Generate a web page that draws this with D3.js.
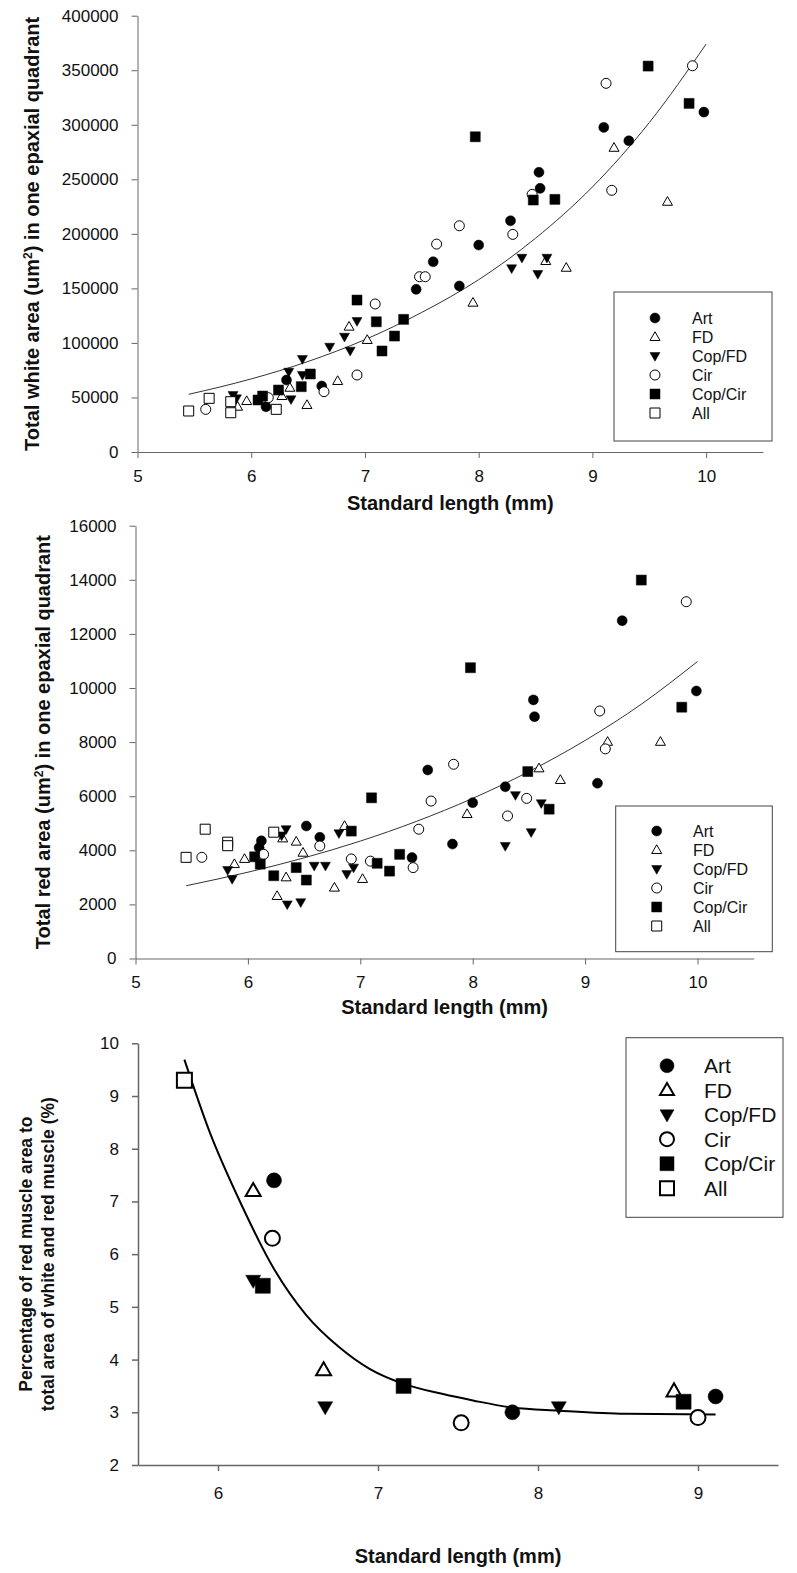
<!DOCTYPE html>
<html>
<head>
<meta charset="utf-8">
<script src="https://cdn.jsdelivr.net/npm/d3@7"></script>
<style>
  body { margin: 0; background: #fff; }
  text { font-family: "Liberation Sans", Arial, sans-serif; fill: #111; }
</style>
</head>
<body>
<div id="chart"></div>
<script>
// series names, in legend order
const seriesNames = ["Art", "FD", "Cop/FD", "Cir", "Cop/Cir", "All"];
const seriesShapes = ["circleFill", "triUpOpen", "triDownFill", "circleOpen", "squareFill", "squareOpen"];

// panel 1 : total white area (um2) vs standard length (mm)
const whiteArt = [[6.13,41500],[6.31,66000],[6.62,60500],[7.45,149100],[7.6,174400],[7.83,152200],[8.0,189700],[8.28,212000],[8.53,256400],[8.54,241700],[9.1,297600],[9.32,285300],[9.98,311600]];
const whiteFD = [[5.88,41500],[5.96,46700],[6.27,51300],[6.34,58900],[6.49,43100],[6.76,65100],[6.86,114900],[7.02,102700],[7.95,136900],[8.59,175100],[8.77,168900],[9.19,278900],[9.66,229400]];
const whiteCopFD = [[5.84,52200],[5.87,49200],[6.33,73600],[6.35,48300],[6.45,70600],[6.45,85200],[6.69,96500],[6.82,105700],[6.87,92900],[6.93,120100],[8.29,168400],[8.38,178100],[8.52,163200],[8.6,178100]];
const whiteCir = [[5.6,39100],[6.15,49800],[6.64,55300],[6.93,70600],[7.09,135700],[7.48,160700],[7.53,160700],[7.63,190600],[7.83,207400],[8.3,199500],[8.47,236200],[9.12,338000],[9.17,239900],[9.88,354100]];
const whiteCopCir = [[6.06,47700],[6.1,51300],[6.24,56800],[6.44,59900],[6.52,71500],[6.93,139300],[7.1,119400],[7.15,92600],[7.26,106300],[7.34,121600],[7.97,289000],[8.48,231000],[8.67,231600],[9.49,353800],[9.85,319600]];
const whiteAll = [[5.45,37600],[5.63,49200],[5.82,46100],[5.82,36000],[6.22,39100]];
const whiteFit = [[5.45,52900],[6,67000],[6.5,83000],[7,103000],[7.5,128000],[8,158000],[8.5,196000],[9,243000],[9.5,302000],[10,374000]];
const whiteYTicks = [0,50000,100000,150000,200000,250000,300000,350000,400000];

// panel 2 : total red area (um2) vs standard length (mm)
const redArt = [[6.12,4350],[6.1,4100],[6.52,4900],[6.64,4480],[7.46,3730],[7.6,6970],[7.82,4230],[8.0,5760],[8.29,6350],[8.54,9560],[8.55,8940],[9.11,6480],[9.33,12490],[9.99,9890]];
const redFD = [[5.88,3490],[5.97,3680],[6.26,2310],[6.31,4440],[6.34,3000],[6.43,4320],[6.49,3910],[6.77,2620],[6.86,4900],[7.02,2940],[7.95,5340],[8.59,7030],[8.78,6600],[9.2,8010],[9.67,8010]];
const redCopFD = [[5.82,3270],[5.86,2940],[6.34,4780],[6.3,4550],[6.35,2000],[6.47,2080],[6.59,3430],[6.69,3430],[6.81,4630],[6.88,3120],[6.94,3360],[8.29,4160],[8.38,6040],[8.52,4670],[8.61,5740]];
const redCir = [[5.59,3740],[6.14,3850],[6.64,4160],[6.92,3680],[7.09,3600],[7.47,3360],[7.52,4780],[7.63,5820],[7.83,7180],[8.31,5270],[8.48,5920],[9.13,9150],[9.18,7750],[9.9,13190]];
const redCopCir = [[6.06,3760],[6.11,3490],[6.23,3060],[6.43,3360],[6.52,2900],[6.92,4710],[7.1,5940],[7.15,3520],[7.26,3230],[7.35,3850],[7.98,10750],[8.49,6910],[8.68,5520],[9.5,13990],[9.86,9290]];
const redAll = [[5.45,3740],[5.62,4780],[5.82,4300],[5.82,4170],[6.23,4670]];
const redFit = [[5.45,2690],[6,3190],[6.5,3720],[7,4340],[7.5,5070],[8,5920],[8.5,6910],[9,8060],[9.5,9400],[10,10980]];
const redYTicks = [0,2000,4000,6000,8000,10000,12000,14000,16000];

// panel 3 : percentage of red muscle
const pctArt = [[6.35,7.4],[7.84,3.0],[9.11,3.3]];
const pctFD = [[6.22,7.2],[6.66,3.8],[8.85,3.4]];
const pctCopFD = [[6.22,5.5],[6.67,3.1],[8.13,3.1]];
const pctCir = [[6.34,6.3],[7.52,2.8],[9.0,2.9]];
const pctCopCir = [[6.28,5.4],[7.16,3.5],[8.91,3.2]];
const pctAll = [[5.79,9.3]];
const pctFit = [[5.79,9.69],[5.95,8.3],[6.14,6.98],[6.35,5.72],[6.55,4.85],[6.76,4.23],[6.95,3.82],[7.16,3.54],[7.4,3.35],[7.6,3.22],[7.84,3.09],[8.13,3.03],[8.55,2.97],[9.11,2.96]];
const pctYTicks = [2,3,4,5,6,7,8,9,10];

const lengthTicks = [5,6,7,8,9,10];
const pctXTicks = [6,7,8,9];

const width = 797, height = 1573;

const svg = d3.select("#chart")
    .append("svg")
    .attr("width", width)
    .attr("height", height);

function shapePath(shape, s) {
    // s = nominal marker size in px
    const h = s / 2;
    if (shape.startsWith("circle")) {
        return d3.symbol(d3.symbolCircle, Math.PI * h * h)();
    }
    if (shape.startsWith("square")) {
        return `M${-h},${-h}H${h}V${h}H${-h}Z`;
    }
    const th = s * 0.87;
    if (shape.startsWith("triUp")) {
        return `M0,${-th * 0.6}L${h},${th * 0.4}L${-h},${th * 0.4}Z`;
    }
    return `M0,${th * 0.6}L${h},${-th * 0.4}L${-h},${-th * 0.4}Z`;
}

function drawMarker(g, shape, cx, cy, s, sw) {
    const open = shape.endsWith("Open");
    g.append("path")
        .attr("d", shapePath(shape, s))
        .attr("transform", `translate(${cx},${cy})`)
        .attr("fill", open ? "#fff" : "#000")
        .attr("stroke", "#000")
        .attr("stroke-width", open ? sw : 0.5);
}

function drawPanel(p) {
    const g = svg.append("g");
    const x = d3.scaleLinear(p.xDomain, p.xRange);
    const y = d3.scaleLinear(p.yDomain, p.yRange);

    // y axis
    const ya = g.append("g")
        .attr("transform", `translate(${p.xRange[0]},0)`)
        .call(d3.axisLeft(y).tickValues(p.yTicks).tickSize(6).tickSizeOuter(0).tickPadding(13).tickFormat(d3.format("d")));
    // x axis
    const xa = g.append("g")
        .attr("transform", `translate(0,${p.yRange[0]})`)
        .call(d3.axisBottom(x).tickValues(p.xTicks).tickSize(6).tickSizeOuter(0).tickPadding(p.xPad).tickFormat(d3.format("d")));

    [ya, xa].forEach(a => {
        a.select(".domain").attr("stroke", "#666").attr("stroke-width", p.axisW);
        a.selectAll(".tick line").attr("stroke", "#666").attr("stroke-width", p.axisW);
        a.selectAll(".tick text")
            .style("font-family", '"Liberation Sans", Arial, sans-serif')
            .style("font-size", p.tickFont + "px")
            .attr("fill", "#1a1a1a");
    });

    // fitted curve
    g.append("path")
        .datum(p.fit)
        .attr("fill", "none")
        .attr("stroke", p.fitColor)
        .attr("stroke-width", p.fitW)
        .attr("d", d3.line().x(d => x(d[0])).y(d => y(d[1])).curve(d3.curveMonotoneX));

    // points, series by series
    p.series.forEach((pts, i) => {
        const sg = g.append("g").attr("class", "series");
        pts.forEach(d => drawMarker(sg, seriesShapes[i], x(d[0]), y(d[1]), p.markSize, p.openW));
    });

    // legend
    const lg = g.append("g");
    lg.append("rect")
        .attr("x", p.legend.x).attr("y", p.legend.y)
        .attr("width", p.legend.w).attr("height", p.legend.h)
        .attr("fill", "#fff").attr("stroke", "#444").attr("stroke-width", 1);
    seriesNames.forEach((name, i) => {
        const cy = p.legend.row0 + i * p.legend.step;
        drawMarker(lg, seriesShapes[i], p.legend.mx, cy, p.legend.ms, p.openW);
        lg.append("text")
            .attr("x", p.legend.tx)
            .attr("y", cy)
            .attr("dy", "0.36em")
            .style("font-size", p.legend.font + "px")
            .text(name);
    });

    // x title
    g.append("text")
        .attr("x", (p.xRange[0] + p.xRange[1]) / 2)
        .attr("y", p.xTitleY)
        .attr("text-anchor", "middle")
        .style("font-size", "20px")
        .style("font-weight", "bold")
        .text("Standard length (mm)");

    // y title
    const yMid = (p.yRange[0] + p.yRange[1]) / 2;
    p.yTitle.forEach(line => {
        const t = g.append("text")
            .attr("transform", `translate(${line.x},${yMid}) rotate(-90)`)
            .attr("text-anchor", "middle")
            .attr("dy", "0.36em")
            .style("font-size", line.size + "px")
            .style("font-weight", "bold");
        line.parts.forEach(part => {
            const ts = t.append("tspan").text(part.t);
            if (part.sup) ts.attr("baseline-shift", "super").style("font-size", "12px");
        });
    });
}

drawPanel({
    xDomain: [5, 10.5], xRange: [137.5, 763],
    yDomain: [0, 400000], yRange: [452, 15.7],
    xTicks: lengthTicks, yTicks: whiteYTicks, xPad: 12,
    series: [whiteArt, whiteFD, whiteCopFD, whiteCir, whiteCopCir, whiteAll],
    fit: whiteFit, fitColor: "#333", fitW: 1,
    markSize: 10, openW: 1, axisW: 1, tickFont: 17,
    legend: {x: 614, y: 292, w: 158, h: 149, row0: 318, step: 19, mx: 655, tx: 692, ms: 10, font: 16},
    xTitleY: 510,
    yTitle: [{x: 32, size: 20, parts: [{t: "Total white area (um"}, {t: "2", sup: true}, {t: ") in one epaxial quadrant"}]}]
});

drawPanel({
    xDomain: [5, 10.5], xRange: [135.5, 753.7],
    yDomain: [0, 16000], yRange: [958.5, 525.7],
    xTicks: lengthTicks, yTicks: redYTicks, xPad: 11,
    series: [redArt, redFD, redCopFD, redCir, redCopCir, redAll],
    fit: redFit, fitColor: "#333", fitW: 1,
    markSize: 10, openW: 1, axisW: 1, tickFont: 17,
    legend: {x: 615.7, y: 806, w: 156.6, h: 145.7, row0: 831, step: 19, mx: 656.7, tx: 693, ms: 10, font: 16},
    xTitleY: 1014,
    yTitle: [{x: 43, size: 20, parts: [{t: "Total red area (um"}, {t: "2", sup: true}, {t: ") in one epaxial quadrant"}]}]
});

drawPanel({
    xDomain: [5.5, 9.5], xRange: [138, 778],
    yDomain: [2, 10], yRange: [1465, 1043.3],
    xTicks: pctXTicks, yTicks: pctYTicks, xPad: 16,
    series: [pctArt, pctFD, pctCopFD, pctCir, pctCopCir, pctAll],
    fit: pctFit, fitColor: "#000", fitW: 2,
    markSize: 15, openW: 2, axisW: 1.5, tickFont: 17,
    legend: {x: 626, y: 1037.7, w: 157, h: 179.6, row0: 1065.7, step: 24.5, mx: 667, tx: 704, ms: 14, font: 21},
    xTitleY: 1563,
    yTitle: [
        {x: 26, size: 17.5, parts: [{t: "Percentage of red muscle area to"}]},
        {x: 48, size: 17.5, parts: [{t: "total area of white and red muscle (%)"}]}
    ]
});
</script>
</body>
</html>
